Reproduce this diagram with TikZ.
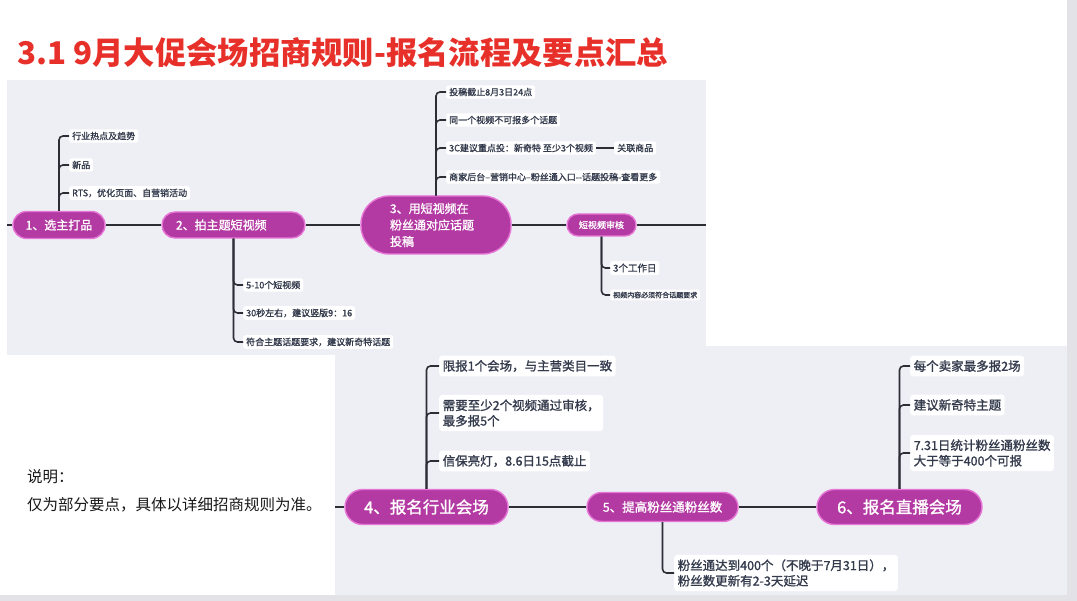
\documentclass[tikz,border=0pt]{standalone}
\usepackage{fontspec}
\setmainfont{Noto Sans CJK SC}
\newfontfamily\medf{Noto Sans CJK SC}[FakeBold=1.2]
\definecolor{bgl}{HTML}{EEEEF5}
\definecolor{strip}{HTML}{E3E3E7}
\definecolor{pillc}{HTML}{B43AA3}
\definecolor{pillb}{HTML}{E676D6}
\definecolor{linec}{HTML}{2D2D35}
\definecolor{txtc}{HTML}{333A4C}
\definecolor{titlec}{HTML}{E8302A}
\tikzset{
  pill/.style={fill=pillc, draw=pillb, line width=1.4pt, text=white, inner sep=0pt},
  sl/.style={fill=white, rounded corners=2.5pt, text=txtc, anchor=west, inner xsep=3pt, inner ysep=2.5pt, font=\medf\fontsize{9}{11}\selectfont},
  bl/.style={fill=white, rounded corners=3pt, text=txtc, anchor=west, inner xsep=3.5pt, inner ysep=4.5pt, align=left, font=\medf\fontsize{12.5}{15.5}\selectfont},
  mainl/.style={draw=linec, line width=2pt},
  brl/.style={draw=linec, line width=1.6pt, rounded corners=4pt},
}
\begin{document}
\begin{tikzpicture}[x=1pt,y=-1pt]
\useasboundingbox (0,0) rectangle (1077,601);
\fill[white] (0,0) rectangle (1077,601);
\fill[strip] (1067,0) rectangle (1077,601);
\fill[strip] (0,595) rectangle (1077,601);
\fill[bgl] (7,80) rectangle (706,355);
\fill[bgl] (335,346) rectangle (1067,595);

% title
\node[anchor=west, inner sep=0pt, text=titlec, font=\fontsize{31.3}{34}\selectfont\bfseries] (title) at (17,53) {3.1 9月大促会场招商规则-报名流程及要点汇总};

% note
\node[anchor=west, inner sep=0pt, align=left, text=black!90, font=\fontsize{15.5}{28}\selectfont] (note) at (27,491) {说明：\\仅为部分要点，具体以详细招商规则为准。};

% top map
\coordinate (tl) at (7,225);
\coordinate (tr) at (706,225);
\node[pill, minimum width=92pt, minimum height=27pt, rounded corners=13.5pt, font=\medf\fontsize{12}{14}\selectfont] (n1) at (59,225) {1、选主打品};
\node[pill, minimum height=26pt, rounded corners=13pt, inner xsep=14pt, text width=115pt, align=left, font=\medf\fontsize{12}{14}\selectfont] (n2) at (233.5,225) {2、拍主题短视频};
\node[pill, minimum height=58pt, rounded corners=28pt, inner xsep=29pt, text width=92pt, align=left, font=\medf\fontsize{12}{16.5}\selectfont] (n3) at (436,225) {3、用短视频在\\粉丝通对应话题\\投稿};
\node[pill, minimum width=69pt, minimum height=22pt, rounded corners=11pt, font=\medf\fontsize{9}{11}\selectfont] (n3b) at (601.5,225) {短视频审核};

\draw[mainl] (tl) -- (n1) -- (n2) -- (n3) -- (n3b) -- (tr);

\node[sl] (a1) at (69,136) {行业热点及趋势};
\node[sl] (a2) at (69,165) {新品};
\node[sl] (a3) at (69,193) {RTS，优化页面、自营销活动};
\node[sl] (b1) at (243,285) {5-10个短视频};
\node[sl] (b2) at (243,313) {30秒左右，建议竖版9：16};
\node[sl] (b3) at (243,342) {符合主题话题要求，建议新奇特话题};
\node[sl] (c1) at (446,92) {投稿截止8月3日24点};
\node[sl] (c2) at (446,120) {同一个视频不可报多个话题};
\node[sl] (c3) at (446,148) {3C建议重点投：新奇特 至少3个视频};
\node[sl] (c3b) at (614,148) {关联商品};
\node[sl] (c4) at (446,177) {商家后台–营销中心–粉丝通入口-{}-话题投稿-查看更多};
\node[sl, font=\medf\fontsize{9.5}{11}\selectfont] (d1) at (610,268) {3个工作日};
\node[sl, font=\medf\fontsize{7}{9}\selectfont, inner ysep=2pt] (d2) at (610,295) {视频内容必须符合话题要求};

\foreach \l in {a1,a2,a3} \draw[brl] (n1.north) |- (\l.west);
\foreach \l in {b1,b2,b3} \draw[brl] (n2.south) |- (\l.west);
\foreach \l in {c1,c2,c3,c4} \draw[brl] (n3.north) |- (\l.west);
\foreach \l in {d1,d2} \draw[brl] (n3b.south) |- (\l.west);
\draw[brl] (c3.east) -- (c3b.west);

% bottom map
\coordinate (bl0) at (335,507);
\node[pill, minimum width=163pt, minimum height=35pt, rounded corners=17.5pt, font=\medf\fontsize{16.5}{18}\selectfont] (n4) at (426.5,507) {4、报名行业会场};
\node[pill, minimum width=151pt, minimum height=29pt, rounded corners=14.5pt, font=\medf\fontsize{12.5}{14}\selectfont] (n5) at (662.5,507) {5、提高粉丝通粉丝数};
\node[pill, minimum width=165pt, minimum height=35pt, rounded corners=17.5pt, font=\medf\fontsize{16.5}{18}\selectfont] (n6) at (899.5,507) {6、报名直播会场};

\draw[mainl] (bl0) -- (n4) -- (n5) -- (n6);

\node[bl] (e1) at (439,366) {限报1个会场，与主营类目一致};
\node[bl] (e2) at (439,413) {需要至少2个视频通过审核，\\最多报5个};
\node[bl] (e3) at (439,461) {信保亮灯，8.6日15点截止};
\node[bl] (f1) at (910,366) {每个卖家最多报2场};
\node[bl] (f2) at (910,405) {建议新奇特主题};
\node[bl] (f3) at (910,453) {7.31日统计粉丝通粉丝数\\大于等于400个可报};
\node[bl] (g1) at (674,573) {粉丝通达到400个（不晚于7月31日），\\粉丝数更新有2-3天延迟};

\foreach \l in {e1,e2,e3} \draw[brl] (n4.north) |- (\l.west);
\foreach \l in {f1,f2,f3} \draw[brl] (n6.north) |- (\l.west);
\draw[brl] (n5.south) |- (g1.west);
\end{tikzpicture}
\end{document}
